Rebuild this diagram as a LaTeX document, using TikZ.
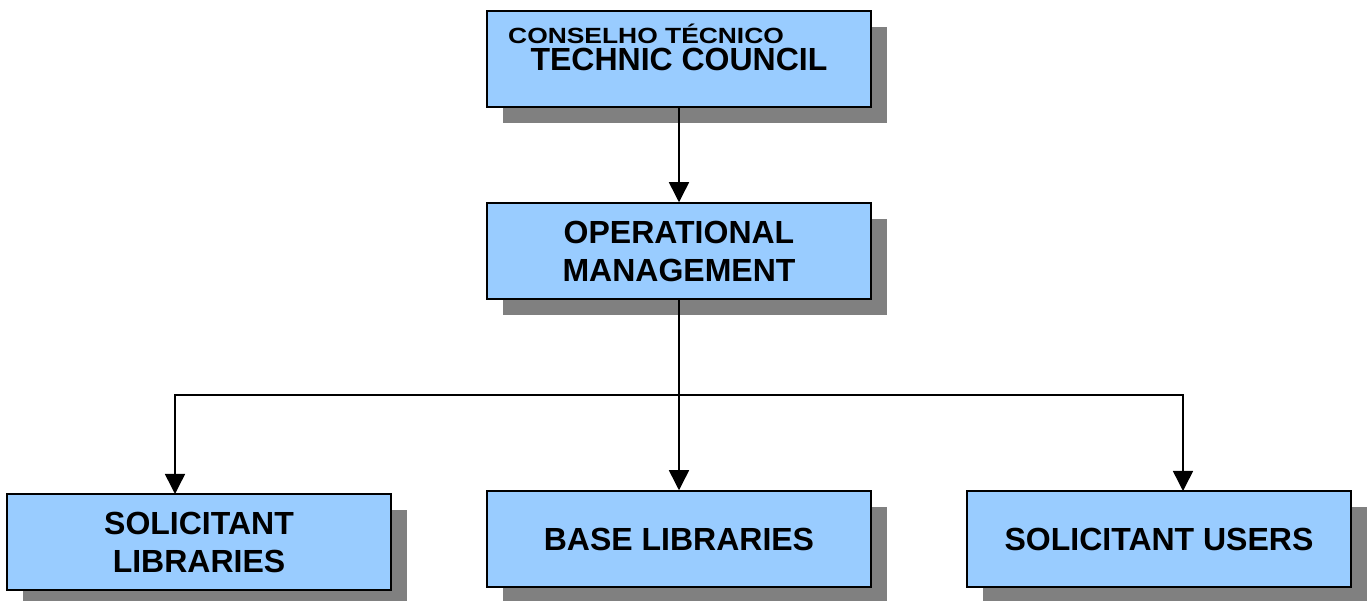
\documentclass[tikz,border=0pt]{standalone}
\usepackage{fontspec}
\setmainfont{Liberation Sans}
\newfontfamily\stretchfont[FakeStretch=1.2]{Liberation Sans}
\usetikzlibrary{shadows,arrows.meta}
\definecolor{boxblue}{HTML}{99CCFF}
\definecolor{shadowgray}{HTML}{808080}
\begin{document}
\begin{tikzpicture}[x=1pt,y=-1pt,
  orgbox/.style={draw=black, line width=1.5pt, fill=boxblue,
    minimum width=384pt, minimum height=96pt, inner sep=0pt,
    align=center, font=\fontsize{32}{38}\selectfont\bfseries,
    drop shadow={shadow xshift=16pt, shadow yshift=-16pt, fill=shadowgray, opacity=1}},
  conn/.style={line width=1.5pt, draw=black},
  arr/.style={conn, -{Triangle[width=20pt,length=20pt]}}]
\useasboundingbox (0,0) rectangle (1369,601);
\node[orgbox] (tc) at (679,59) {TECHNIC COUNCIL};
\node[anchor=base west, inner sep=0pt, font=\stretchfont\fontsize{22}{26}\selectfont\bfseries] (ct) at (508,44) {CONSELHO TÉCNICO};
\node[orgbox] (om) at (679,251) {OPERATIONAL\\MANAGEMENT};
\node[orgbox] (sl) at (199,542) {SOLICITANT\\LIBRARIES};
\node[orgbox] (bl) at (679,539) {BASE LIBRARIES};
\node[orgbox] (su) at (1159,539) {SOLICITANT USERS};
\coordinate (j) at (679,395);
\coordinate (slin) at (175,494);
\coordinate (suin) at (1183,491);
\draw[arr] (tc) -- (om);
\draw[arr] (om) -- (bl);
\draw[arr] (j) -| (slin);
\draw[arr] (j) -| (suin);
\end{tikzpicture}
\end{document}
